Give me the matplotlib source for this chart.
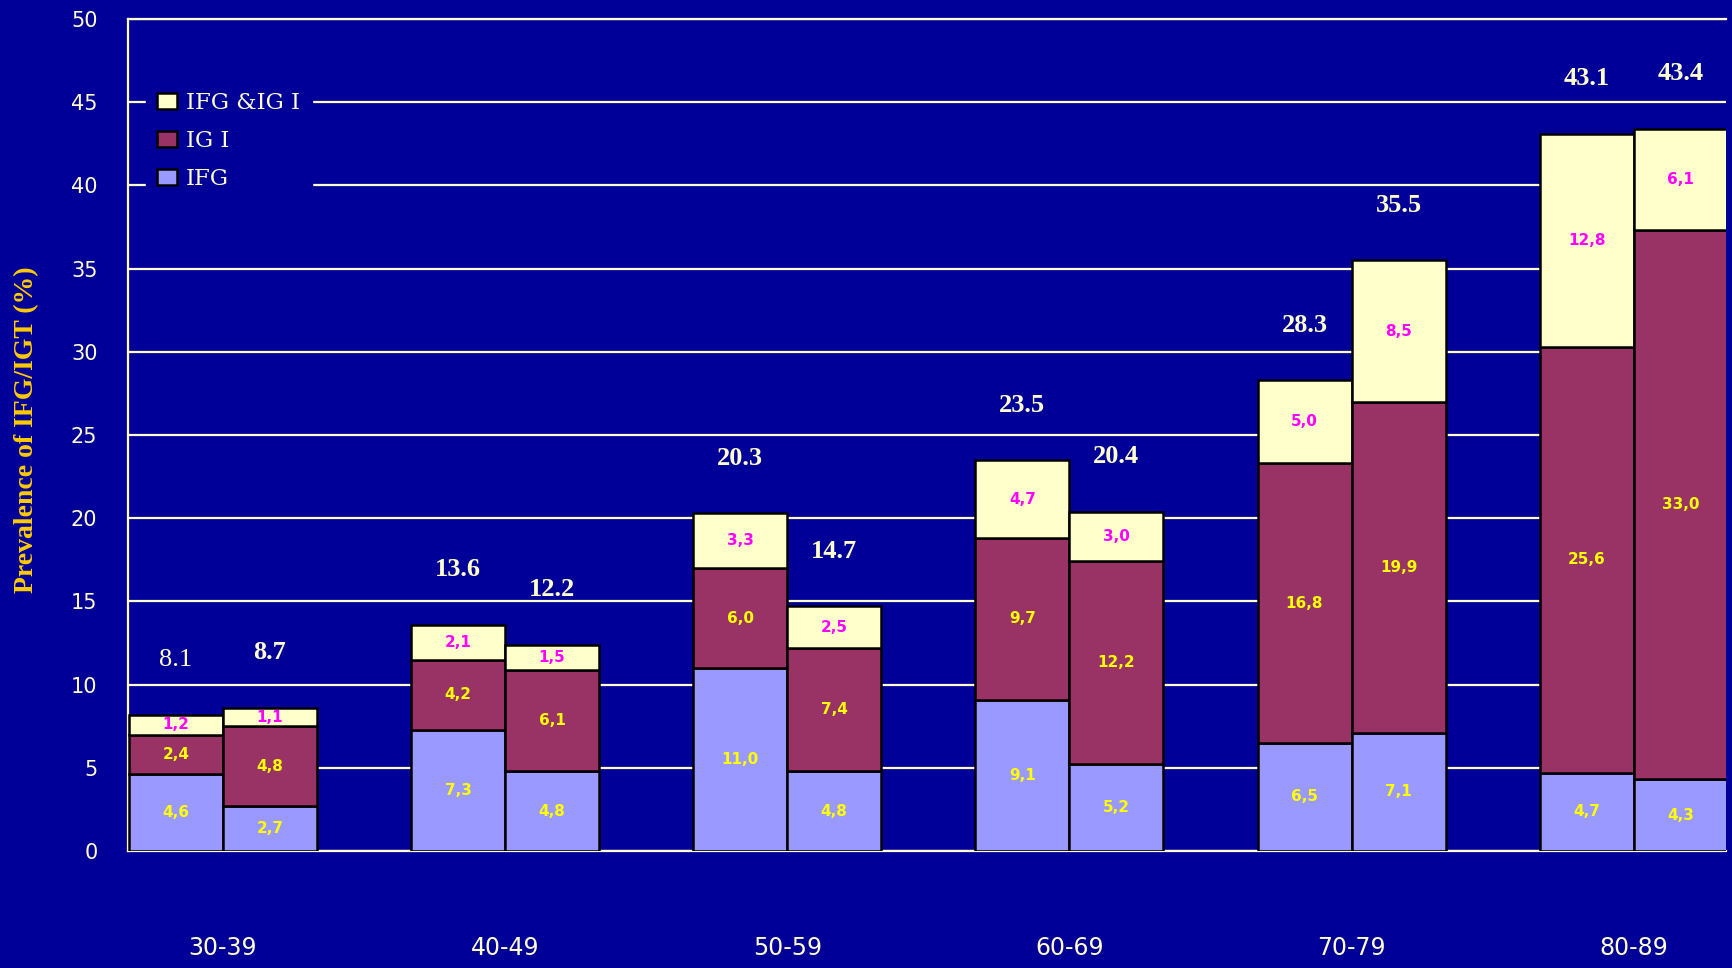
import numpy as np
import matplotlib
matplotlib.use("Agg")
import matplotlib.pyplot as plt

# age groups, two bars per group, three stacked components each
age_groups = ['30-39', '40-49', '50-59', '60-69', '70-79', '80-89']
ifg_a = [4.6, 7.3, 11.0, 9.1, 6.5, 4.7]
igt_a = [2.4, 4.2, 6.0, 9.7, 16.8, 25.6]
both_a = [1.2, 2.1, 3.3, 4.7, 5.0, 12.8]
total_a = ['8.1', '13.6', '20.3', '23.5', '28.3', '43.1']

ifg_b = [2.7, 4.8, 4.8, 5.2, 7.1, 4.3]
igt_b = [4.8, 6.1, 7.4, 12.2, 19.9, 33.0]
both_b = [1.1, 1.5, 2.5, 3.0, 8.5, 6.1]
total_b = ['8.7', '12.2', '14.7', '20.4', '35.5', '43.4']

BG = '#000099'
PALE = '#FFFFCC'
C_IFG = '#9999FF'
C_IGT = '#993366'
C_BOTH = '#FFFFCC'

fig = plt.figure(figsize=(17.33, 9.68), dpi=100, facecolor=BG)
ax = fig.add_axes([128/1733, 1 - 851/968, (1726-128)/1733, (851-19)/968])
ax.set_facecolor(BG)

x = np.arange(len(age_groups))
w = 0.333

def stack(xpos, ifg, igt, both, totals, first_light=False):
    ifg = np.array(ifg); igt = np.array(igt); both = np.array(both)
    kw = dict(width=w, align='edge', edgecolor='black', linewidth=1.8, zorder=3)
    b1 = ax.bar(xpos, ifg, color=C_IFG, label='IFG', **kw)
    b2 = ax.bar(xpos, igt, bottom=ifg, color=C_IGT, label='IG I', **kw)
    b3 = ax.bar(xpos, both, bottom=ifg + igt, color=C_BOTH, label='IFG &IG I', **kw)
    cx = xpos + w / 2
    for i in range(len(cx)):
        ax.text(cx[i], ifg[i] / 2, f'{ifg[i]:.1f}'.replace('.', ','), ha='center', va='center',
                color='#FFFF00', fontsize=11, fontweight='bold', zorder=4)
        ax.text(cx[i], ifg[i] + igt[i] / 2, f'{igt[i]:.1f}'.replace('.', ','), ha='center', va='center',
                color='#FFFF00', fontsize=11, fontweight='bold', zorder=4)
        ax.text(cx[i], ifg[i] + igt[i] + both[i] / 2, f'{both[i]:.1f}'.replace('.', ','), ha='center',
                va='center', color='#FF00FF', fontsize=11, fontweight='bold', zorder=4)
        top = ifg[i] + igt[i] + both[i]
        weight = 'normal' if (first_light and i == 0) else 'bold'
        ax.text(cx[i], top + 3.3, totals[i], ha='center', va='center', color=PALE,
                fontsize=19, fontweight=weight, family='Liberation Serif', zorder=4)
    return b1, b2, b3

h_a = stack(x - w, ifg_a, igt_a, both_a, total_a, first_light=True)
h_b = stack(x, ifg_b, igt_b, both_b, total_b)

ax.set_xlim(-0.336, 5.327)
ax.set_ylim(0, 50)
ax.set_yticks(np.arange(0, 51, 5))
ax.yaxis.grid(True, color=PALE, linewidth=1.6, zorder=0)
ax.set_axisbelow(True)
for s in ['top', 'left', 'bottom']:
    ax.spines[s].set_color(PALE)
    ax.spines[s].set_linewidth(1.6)
ax.spines['right'].set_visible(False)

ax.tick_params(axis='y', length=0, pad=22, labelcolor=PALE, labelsize=15)
ax.set_xticks(x)
ax.set_xticklabels(age_groups)
ax.tick_params(axis='x', length=0, pad=61, labelcolor=PALE, labelsize=17)

fig.text(27/1733, 1 - 430/968, 'Prevalence of IFG/IGT (%)', rotation=90, ha='center', va='center',
         color='#FFCC00', fontsize=20, fontweight='bold', family='Liberation Serif')

leg = ax.legend([h_a[2], h_a[1], h_a[0]], ['IFG &IG I', 'IG I', 'IFG'],
                loc='upper left', bbox_to_anchor=(146/1733, 1 - 81/968),
                bbox_transform=fig.transFigure, facecolor=BG, edgecolor=BG, framealpha=1,
                handlelength=0.85, handleheight=0.7, handletextpad=0.4,
                labelspacing=0.68, borderpad=0.5, borderaxespad=0, fancybox=False,
                prop={'family': 'DejaVu Serif', 'size': 16.5})
for t in leg.get_texts():
    t.set_color(PALE)
leg.set_zorder(5)

fig.savefig('out.png', dpi=100, facecolor=BG)
